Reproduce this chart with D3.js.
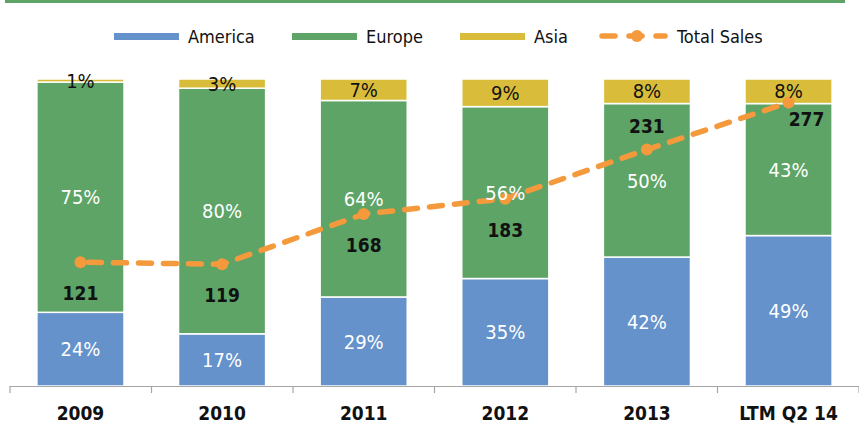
<!DOCTYPE html>
<html>
<head>
<meta charset="utf-8">
<script src="https://cdn.jsdelivr.net/npm/d3@7/dist/d3.min.js"></script>
<style>
  body { margin: 0; background: #fff; }
  svg { display: block; font-family: "DejaVu Sans Condensed", "DejaVu Sans", sans-serif; }
  .pct { font-family: "Liberation Sans Narrow", "DejaVu Sans Condensed", sans-serif; }
</style>
</head>
<body>
<div id="chart"></div>
<script>
// data
var categories = ["2009", "2010", "2011", "2012", "2013", "LTM Q2 14"];
var america = [24, 17, 29, 35, 42, 49];
var europe = [75, 80, 64, 56, 50, 43];
var asia = [1, 3, 7, 9, 8, 8];
var totalSales = [121, 119, 168, 183, 231, 277];
// where each total label sits relative to its point
var totalLabelPlace = ["below", "below", "below", "below", "above", "right"];

var svgWidth = 859;
var svgHeight = 428;

var colors = {
  america: "#6592cb",
  europe: "#5da466",
  asia: "#d9bd3a",
  total: "#f49a3c"
};

var svg = d3.select("#chart")
  .append("svg")
  .attr("width", svgWidth)
  .attr("height", svgHeight);

// green rule at the top
svg.append("rect")
  .attr("x", 5)
  .attr("y", 0)
  .attr("width", 840)
  .attr("height", 3)
  .attr("fill", colors.europe);

var plotLeft = 10, plotRight = 859, plotTop = 79, plotBottom = 386;

var xScale = d3.scaleBand()
  .domain(categories)
  .range([plotLeft, plotRight])
  .paddingInner(0.385)
  .paddingOuter(0.19);

var yScale = d3.scaleLinear()
  .domain([0, 100])
  .range([plotBottom, plotTop]);

var y2Scale = d3.scaleLinear()
  .domain([0, 300])
  .range([plotBottom, plotTop]);

// build stacked table
var table = categories.map(function(c, i) {
  return { cat: c, america: america[i], europe: europe[i], asia: asia[i], total: totalSales[i] };
});
var keys = ["america", "europe", "asia"];
var stacked = d3.stack().keys(keys)(table);

var barsGroup = svg.append("g");
stacked.forEach(function(layer) {
  barsGroup.selectAll(null)
    .data(layer)
    .enter()
    .append("rect")
    .attr("x", d => xScale(d.data.cat))
    .attr("y", d => yScale(d[1]))
    .attr("width", xScale.bandwidth())
    .attr("height", d => yScale(d[0]) - yScale(d[1]))
    .attr("fill", colors[layer.key])
    .attr("stroke", "#fff")
    .attr("stroke-width", 1.5);
});

// x axis with ticks between categories
var axisG = svg.append("g");
axisG.append("line")
  .attr("x1", plotLeft).attr("x2", plotRight)
  .attr("y1", plotBottom + 0.5).attr("y2", plotBottom + 0.5)
  .attr("stroke", "#a6a6a6").attr("stroke-width", 1.2);
d3.range(categories.length + 1).forEach(function(i) {
  var tx = plotLeft + i * (plotRight - plotLeft) / categories.length;
  axisG.append("line")
    .attr("x1", tx).attr("x2", tx)
    .attr("y1", plotBottom).attr("y2", plotBottom + 7)
    .attr("stroke", "#a6a6a6").attr("stroke-width", 1.2);
});
axisG.selectAll("text.cat")
  .data(categories)
  .enter()
  .append("text")
  .attr("x", d => xScale(d) + xScale.bandwidth() / 2)
  .attr("y", 420)
  .attr("text-anchor", "middle")
  .attr("font-size", "19px")
  .attr("font-weight", "bold")
  .attr("fill", "#111")
  .text(d => d);

// total sales line
var lineGen = d3.line()
  .x(d => xScale(d.cat) + xScale.bandwidth() / 2)
  .y(d => y2Scale(d.total));

svg.append("path")
  .datum(table)
  .attr("d", lineGen)
  .attr("fill", "none")
  .attr("stroke", colors.total)
  .attr("stroke-width", 5.5)
  .attr("stroke-dasharray", "13,12")
  .attr("stroke-dashoffset", -8)
  .attr("stroke-linecap", "round");

svg.selectAll("circle.pt")
  .data(table)
  .enter()
  .append("circle")
  .attr("cx", d => xScale(d.cat) + xScale.bandwidth() / 2)
  .attr("cy", d => y2Scale(d.total))
  .attr("r", 6)
  .attr("fill", colors.total);

// percentage labels
var labelGroup = svg.append("g")
  .attr("text-anchor", "middle");

stacked.forEach(function(layer) {
  labelGroup.selectAll(null)
    .data(layer)
    .enter()
    .append("text")
    .attr("class", "pct")
    .attr("font-size", "20px")
    .attr("x", d => xScale(d.data.cat) + xScale.bandwidth() / 2)
    .attr("y", d => (yScale(d[0]) + yScale(d[1])) / 2)
    .attr("dy", "0.36em")
    .attr("fill", layer.key === "asia" ? "#111" : "#fff")
    .text(d => d.data[layer.key] + "%");
});

// total labels
labelGroup.selectAll("text.total")
  .data(table)
  .enter()
  .append("text")
  .attr("x", function(d, i) {
    var cx = xScale(d.cat) + xScale.bandwidth() / 2;
    return totalLabelPlace[i] === "right" ? cx + 18 : cx;
  })
  .attr("y", function(d, i) {
    var cy = y2Scale(d.total);
    if (totalLabelPlace[i] === "above") return cy - 23;
    if (totalLabelPlace[i] === "right") return cy + 17;
    return cy + 31;
  })
  .attr("dy", "0.36em")
  .attr("font-weight", "bold")
  .attr("font-size", "19px")
  .attr("fill", "#111")
  .text(d => d.total);

// legend
var legend = svg.append("g").attr("font-size", "18px");
var legendItems = [
  { name: "America", key: "america", x: 114 },
  { name: "Europe", key: "europe", x: 292 },
  { name: "Asia", key: "asia", x: 460 }
];
legendItems.forEach(function(item) {
  legend.append("rect")
    .attr("x", item.x).attr("y", 33)
    .attr("width", 65).attr("height", 7)
    .attr("fill", colors[item.key]);
  legend.append("text")
    .attr("x", item.x + 74).attr("y", 37)
    .attr("dy", "0.36em")
    .attr("fill", "#111")
    .text(item.name);
});
legend.append("line")
  .attr("x1", 602).attr("x2", 665)
  .attr("y1", 36).attr("y2", 36)
  .attr("stroke", colors.total)
  .attr("stroke-width", 5.5)
  .attr("stroke-linecap", "round")
  .attr("stroke-dasharray", "13,14");
legend.append("circle")
  .attr("cx", 637).attr("cy", 36).attr("r", 6)
  .attr("fill", colors.total);
legend.append("text")
  .attr("x", 677).attr("y", 37)
  .attr("dy", "0.36em")
  .attr("fill", "#111")
  .text("Total Sales");
</script>
</body>
</html>
